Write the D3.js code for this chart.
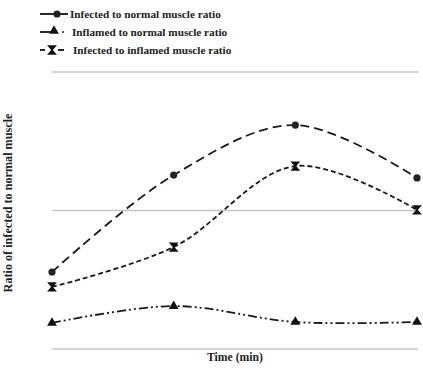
<!DOCTYPE html>
<html><head><meta charset="utf-8">
<script src="https://cdn.jsdelivr.net/npm/d3@7"></script>
<style>body{margin:0;background:#fff}svg{display:block}</style>
</head><body>
<svg id="c" width="423" height="372"></svg>
<script>
const categories = ["T1", "T2", "T3", "T4"];
const yTicks = [0, 1, 2];
const infectedNormal = [0.556, 1.256, 1.617, 1.235];
const inflamedNormal = [0.188, 0.31, 0.195, 0.195];
const infectedInflamed = [0.448, 0.736, 1.321, 1.004];
const seriesNames = ["Infected to normal muscle ratio", "Inflamed to normal muscle ratio", "Infected to inflamed muscle ratio"];

const svg = d3.select("#c");
const font = "'Liberation Serif','Times New Roman',serif";
const x = d3.scalePoint().domain(categories).range([52, 417]);
const y = d3.scaleLinear().domain([0, 2]).range([349, 72]);

svg.append("g").selectAll("line").data(yTicks).join("line")
  .attr("x1", 52).attr("x2", 418)
  .attr("y1", d => y(d)).attr("y2", d => y(d))
  .attr("stroke", "#c4c4c4").attr("stroke-width", 1.3);

const series = [
  {name: seriesNames[0], vals: infectedNormal, dash: "9,5", marker: "circle"},
  {name: seriesNames[1], vals: inflamedNormal, dash: "9,3,2,3,2,3", marker: "triangle"},
  {name: seriesNames[2], vals: infectedInflamed, dash: "5,3", marker: "hour"}
];

const line = d3.line().x((d, i) => x(categories[i])).y(d => y(d)).curve(d3.curveCatmullRom.alpha(0.5));

function marker(g, type, cx, cy) {
  if (type === "circle") {
    g.append("circle").attr("cx", cx).attr("cy", cy).attr("r", 3.6).attr("fill", "#222");
  } else if (type === "triangle") {
    g.append("path").attr("d", d3.symbol(d3.symbolTriangle, 42)()).attr("transform", `translate(${cx},${cy})`).attr("fill", "#111");
  } else {
    g.append("path").attr("d", "M-3.5,-4L3.5,-4L-3.5,4L3.5,4Z").attr("transform", `translate(${cx},${cy})`)
      .attr("fill", "#111").attr("stroke", "#111").attr("stroke-width", 1.3).attr("stroke-linejoin", "miter");
  }
}

series.forEach(s => {
  svg.append("path").attr("d", line(s.vals)).attr("fill", "none")
    .attr("stroke", "#1a1a1a").attr("stroke-width", 1.8).attr("stroke-dasharray", s.dash);
  const g = svg.append("g");
  s.vals.forEach((v, i) => marker(g, s.marker, x(categories[i]), y(v)));
});

function fit(sel, target) {
  const fs = +sel.attr("font-size");
  const w = sel.node().getComputedTextLength();
  if (w > 0) sel.attr("font-size", (fs * target / w).toFixed(2));
}

const leg = svg.append("g");
const ly = [14, 32, 50];
leg.append("line").attr("x1", 40).attr("x2", 68).attr("y1", ly[0]).attr("y2", ly[0]).attr("stroke", "#111").attr("stroke-width", 1.8);
marker(leg, "circle", 57, ly[0]);
leg.append("line").attr("x1", 40).attr("x2", 57).attr("y1", ly[1]).attr("y2", ly[1]).attr("stroke", "#111").attr("stroke-width", 1.8);
marker(leg, "triangle", 54, ly[1] - 1);
leg.append("circle").attr("cx", 63).attr("cy", ly[1]).attr("r", 0.9).attr("fill", "#111");
leg.append("line").attr("x1", 40).attr("x2", 45).attr("y1", ly[2]).attr("y2", ly[2]).attr("stroke", "#111").attr("stroke-width", 1.8);
marker(leg, "hour", 52, ly[2]);
leg.append("line").attr("x1", 58).attr("x2", 64).attr("y1", ly[2]).attr("y2", ly[2]).attr("stroke", "#111").attr("stroke-width", 1.8);
const lx = [70, 72, 73];
const texts = seriesNames.map((n, i) =>
  leg.append("text").attr("x", lx[i]).attr("y", ly[i] + 4).text(n)
    .attr("font-family", font).attr("font-weight", "bold").attr("font-size", 10).attr("fill", "#222"));
fit(texts[0], 151);
const legFs = texts[0].attr("font-size");
texts.forEach(t => t.attr("font-size", legFs));

const tx = svg.append("text").attr("x", 235).attr("y", 361).attr("text-anchor", "middle").text("Time (min)")
  .attr("font-family", font).attr("font-weight", "bold").attr("font-size", 11).attr("fill", "#222");
fit(tx, 56);
const ty = svg.append("text").attr("transform", "translate(12,203) rotate(-90)").attr("text-anchor", "middle")
  .text("Ratio of infected to normal muscle")
  .attr("font-family", font).attr("font-weight", "bold").attr("font-size", 11).attr("fill", "#222");
fit(ty, 179);
</script>
</body></html>
